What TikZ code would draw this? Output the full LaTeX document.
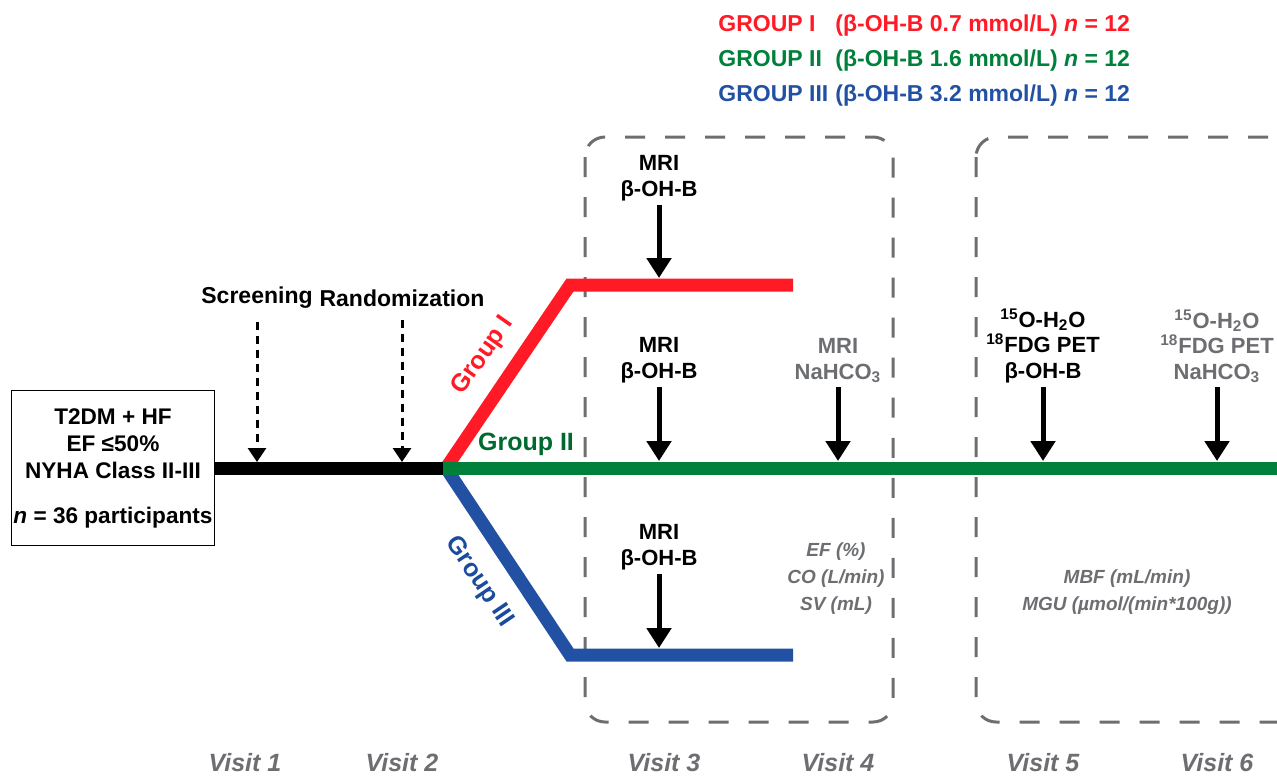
\documentclass[tikz,border=0pt]{standalone}
\usepackage{fontspec}
\setmainfont{Liberation Sans}
\usetikzlibrary{positioning,arrows.meta,calc}
\definecolor{muted}{HTML}{6D6E71}
\definecolor{grpone}{HTML}{FF1A25}
\definecolor{grptwo}{HTML}{00803A}
\definecolor{grptwotext}{HTML}{00692F}
\definecolor{grpthree}{HTML}{2251A3}
\definecolor{grpthreetext}{HTML}{1A4B9C}

\begin{document}
\begin{tikzpicture}[x=0.5pt, y=-0.5pt, font=\bfseries,
    track/.style={line width=6.5pt},
    probe/.style={-{Triangle[length=10pt,width=12pt]}, line width=2.5pt},
    pick/.style={-{Triangle[length=7pt,width=9pt]}, line width=1.5pt, dash pattern=on 4pt off 3pt},
    frame/.style={muted, line width=1.5pt, dash pattern=on 10pt off 10pt, rounded corners=10pt},
    head/.style={anchor=base west, inner sep=0pt, font=\bfseries\fontsize{11.5}{13}\selectfont},
    note/.style={anchor=south, align=center, inner sep=2pt, font=\bfseries\fontsize{11}{12.75}\selectfont},
    result/.style={muted, align=center, font=\bfseries\itshape\fontsize{9.5}{13.5}\selectfont},
    glabel/.style={font=\bfseries\fontsize{12.5}{14}\selectfont},
    visit/.style={muted, font=\bfseries\itshape\fontsize{12.5}{14}\selectfont}]
    \useasboundingbox (0,0) rectangle (1277,777);

    % visit frames
    \draw[frame] (585,137) rectangle (893,722);
    \draw[frame] (976,137) rectangle (1320,722);

    % group legend
    \node[head, grpone] (hdr1) at (718,31) {GROUP I};
    \node[head, grpone] (hdr1b) at (835,31) {(β-OH-B 0.7 mmol/L) \textit{n} = 12};
    \node[head, grptwo] (hdr2) at (718,66) {GROUP II};
    \node[head, grptwo] (hdr2b) at (835,66) {(β-OH-B 1.6 mmol/L) \textit{n} = 12};
    \node[head, grpthree] (hdr3) at (718,101) {GROUP III};
    \node[head, grpthree] (hdr3b) at (835,101) {(β-OH-B 3.2 mmol/L) \textit{n} = 12};

    % cohort
    \node[draw, line width=0.8pt, align=center, inner sep=1pt, minimum width=101pt, minimum height=77.5pt,
      font=\bfseries\fontsize{11.3}{13.5}\selectfont] (cohort) at (113,468)
      {T2DM + HF\\EF ≤50\%\\NYHA Class II-III\\[9pt]\textit{n} = 36 participants};

    % tracks
    \coordinate (split) at (443,468);
    \coordinate (tail) at (1277,468);
    \draw[track, grpone] (446,468) -- (570,285) -- (793,285);
    \draw[track, grpthree] (446,468) -- (570,655) -- (793,655);
    \draw[track, black] (cohort.east) -- (split);
    \draw[track, grptwo] (split) -- (tail);

    \node[glabel, grpone, rotate=55] (lab1) at (483,356) {Group I};
    \node[glabel, grptwotext] (lab2) at (526,444) {Group II};
    \node[glabel, grpthreetext, rotate=-56] (lab3) at (479,582) {Group III};

    % visits 1-2
    \node[font=\bfseries\fontsize{11.5}{13}\selectfont] (scr) at (257,298) {Screening};
    \node[font=\bfseries\fontsize{11.5}{13}\selectfont] (rnd) at (402,298) {Randomization};
    \coordinate (v1) at (257,462);
    \coordinate (v2) at (402,462);
    \draw[pick, shorten <=3pt] (scr) -- (v1);
    \draw[pick, shorten <=3pt] (rnd) -- (v2);

    % visit 3
    \node[note] (mri1) at (659,205) {MRI\\β-OH-B};
    \node[note] (mri2) at (659,387) {MRI\\β-OH-B};
    \node[note] (mri3) at (659,574) {MRI\\β-OH-B};
    \coordinate (g1v3) at (659,278);
    \coordinate (g2v3) at (659,461);
    \coordinate (g3v3) at (659,648);
    \draw[probe] (mri1) -- (g1v3);
    \draw[probe] (mri2) -- (g2v3);
    \draw[probe] (mri3) -- (g3v3);

    % visit 4
    \node[note, muted] (mri4) at (838,387) {MRI\\NaHCO\textsubscript{3}};
    \coordinate (g2v4) at (838,461);
    \draw[probe] (mri4) -- (g2v4);
    \node[result] (hemo) at (836,579) {EF (\%)\\CO (L/min)\\SV (mL)};

    % visits 5-6
    \node[note] (pet5) at (1043,387) {\textsuperscript{15}O-H\textsubscript{2}O\\\textsuperscript{18}FDG PET\\β-OH-B};
    \node[note, muted] (pet6) at (1217,387) {\textsuperscript{15}O-H\textsubscript{2}O\\\textsuperscript{18}FDG PET\\NaHCO\textsubscript{3}};
    \coordinate (g2v5) at (1043,461);
    \coordinate (g2v6) at (1217,461);
    \draw[probe] (pet5) -- (g2v5);
    \draw[probe] (pet6) -- (g2v6);
    \node[result] (pet) at (1127,592) {MBF (mL/min)\\MGU (µmol/(min*100g))};

    \foreach \x/\n in {245/1, 402/2, 664/3, 838/4, 1043/5, 1217/6}
      \node[visit] (visit\n) at (\x,763) {Visit \n};
  \end{tikzpicture}
\end{document}
